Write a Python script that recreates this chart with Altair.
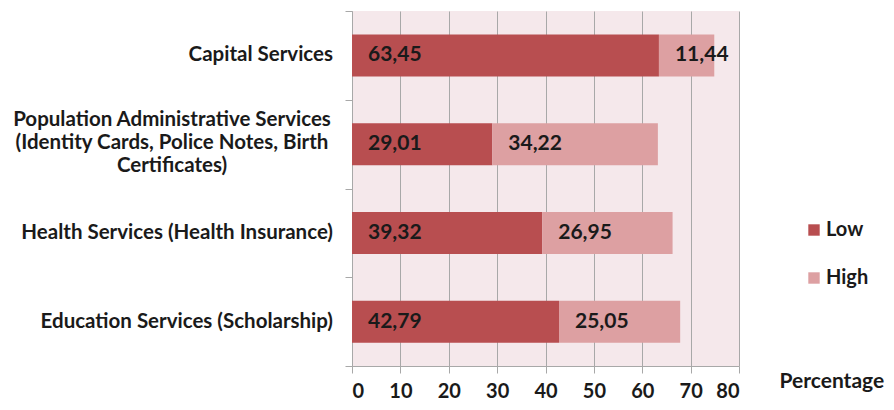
import altair as alt
import pandas as pd

categories = [
    "Capital Services",
    "Population Administrative Services\n(Identity Cards, Police Notes, Birth\nCertificates)",
    "Health Services (Health Insurance)",
    "Education Services (Scholarship)",
]
series = ["Low", "High"]
low_values = [63.45, 29.01, 39.32, 42.79]
high_values = [11.44, 34.22, 26.95, 25.05]
x_ticks = [0, 10, 20, 30, 40, 50, 60, 70, 80]

LOW_COLOR = "#b84e50"
HIGH_COLOR = "#dda0a2"
BG = "#f5e8eb"
GRID = "#a8a8a8"
FONT = "Lato"
TXT = "#1a1a1a"

rows = []
for c, lo, hi in zip(categories, low_values, high_values):
    rows.append({"cat": c, "series": "Low", "order": 0, "value": lo})
    rows.append({"cat": c, "series": "High", "order": 1, "value": hi})
df = pd.DataFrame(rows)

lab_df = pd.DataFrame({"cat": categories, "n": [c.count("\n") + 1 for c in categories]})

y_enc = alt.Y(
    "cat:N",
    sort=categories,
    scale=alt.Scale(paddingInner=0, paddingOuter=0),
    axis=alt.Axis(
        labels=False, title=None, tickBand="extent", ticks=True, tickSize=7,
        tickColor=GRID, domainColor=GRID, grid=False,
    ),
)

x_enc = alt.X(
    "x0:Q",
    scale=alt.Scale(domain=[0, 80], nice=False),
    axis=alt.Axis(
        values=x_ticks, grid=True, gridColor=GRID, gridOpacity=1, gridWidth=1,
        tickColor=GRID, tickSize=7, domainColor=GRID,
        labelFont=FONT, labelFontWeight="bold", labelFontSize=20, labelColor=TXT,
        labelPadding=8,
        title="Percentage", titleFont=FONT, titleFontWeight="bold", titleFontSize=21,
        titleColor=TXT, titleX=427, titleY=15, titleAlign="left",
        titleBaseline="middle", titleAngle=0,
    ),
)

base = alt.Chart(df).transform_stack(
    stack="value", groupby=["cat"], as_=["x0", "x1"], sort=[alt.SortField("order")]
)

bars = base.mark_bar(size=42).encode(
    x=x_enc,
    x2="x1:Q",
    y=y_enc,
    color=alt.Color(
        "series:N",
        scale=alt.Scale(domain=series, range=[LOW_COLOR, HIGH_COLOR]),
        legend=alt.Legend(
            title=None, orient="none", legendX=452, legendY=209,
            symbolType="square", symbolSize=130, symbolStrokeWidth=0,
            labelFont=FONT, labelFontWeight="bold", labelFontSize=20, labelColor=TXT,
            rowPadding=28, labelOffset=2,
        ),
    ),
)

values_txt = base.transform_calculate(
    lbl="replace(format(datum.value, '.2f'), '.', ',')"
).mark_text(
    align="left", baseline="middle", dx=16, font=FONT, fontWeight="bold",
    fontSize=21, color=TXT,
).encode(x=x_enc, y=y_enc, text="lbl:N")

single = alt.Chart(lab_df).transform_filter("datum.n == 1").mark_text(
    align="right", baseline="middle", font=FONT, fontWeight="bold", fontSize=20.5,
    color=TXT,
).encode(x=alt.value(-19), y=y_enc, text="cat:N")

multi = alt.Chart(lab_df).transform_filter("datum.n > 1").mark_text(
    align="center", baseline="middle", font=FONT, fontWeight="bold", fontSize=20.5,
    color=TXT, lineBreak="\n", lineHeight=23, dy=-24,
).encode(x=alt.value(-180), y=y_enc, text="cat:N")

chart = alt.layer(bars, values_txt, single, multi).properties(
    width=387, height=355,
    background="white",
    autosize=alt.AutoSizeParams(type="none"),
    padding={"left": 344, "top": 3, "right": 147, "bottom": 36},
).configure_view(fill=BG, stroke=None)

chart.save("out.html", embed_options={"renderer": "svg", "actions": False})
